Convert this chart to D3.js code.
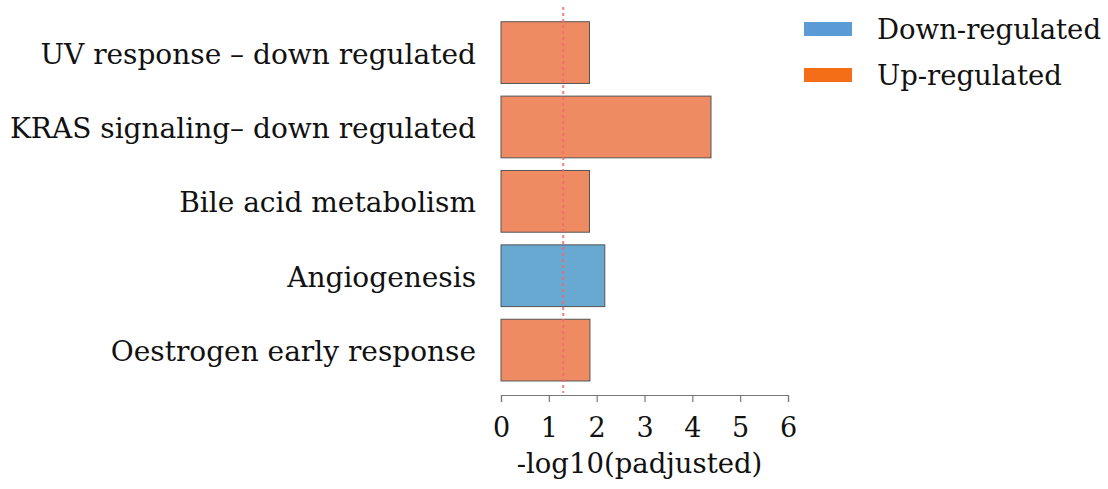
<!DOCTYPE html>
<html><head><meta charset="utf-8">
<script src="https://cdn.jsdelivr.net/npm/d3@7"></script>
<style>
html,body{margin:0;padding:0;background:#fff;}
svg text{font-family:"Palatino Linotype",Palatino,"Book Antiqua","P052","URW Palladio L","DejaVu Serif",serif;fill:#111;}
</style></head>
<body><svg id="c" width="1108" height="489"></svg>
<script>
const categories = ["UV response – down regulated","KRAS signaling– down regulated","Bile acid metabolism","Angiogenesis","Oestrogen early response"];
const values = [1.85, 4.39, 1.85, 2.17, 1.86];
const direction = ["Up","Up","Up","Down","Up"];
const tickValues = [0,1,2,3,4,5,6];
const threshold = 1.301; // -log10(0.05)
const legendLabels = ["Down-regulated","Up-regulated"];
const legendKeys = ["Down","Up"];

const svg = d3.select("#c");
const x = d3.scaleLinear().domain([0,6]).range([501,788]);
const y = d3.scaleBand().domain(categories).range([15.4,387.3]).paddingInner(0.17).paddingOuter(0.085);
const barFill = d3.scaleOrdinal().domain(["Down","Up"]).range(["#67A9D1","#EF8B63"]);
const legFill = d3.scaleOrdinal().domain(["Down","Up"]).range(["#5B9BD5","#F36E17"]);

// bars
svg.append("g").selectAll("rect").data(categories).join("rect")
  .attr("x", x(0))
  .attr("y", d => y(d))
  .attr("width", (d,i) => x(values[i]) - x(0))
  .attr("height", y.bandwidth())
  .attr("fill", (d,i) => barFill(direction[i]))
  .attr("stroke", "#555")
  .attr("stroke-width", 1);

// threshold line
svg.append("line")
  .attr("x1", x(threshold)).attr("x2", x(threshold))
  .attr("y1", 7).attr("y2", 393)
  .attr("stroke", "#F26A6A").attr("stroke-width", 2)
  .attr("stroke-opacity", 0.85)
  .attr("stroke-dasharray", "3,3");

// category labels
svg.append("g").selectAll("text").data(categories).join("text")
  .attr("x", 476)
  .attr("y", d => y(d) + y.bandwidth()/2 + 11)
  .attr("text-anchor", "end")
  .style("font-size", "28px")
  .text(d => d);

// x axis
const axis = d3.axisBottom(x).tickValues(tickValues).tickSize(7).tickPadding(16).tickFormat(d3.format("d"));
const ax = svg.append("g").attr("transform", "translate(0,395)").call(axis);
ax.attr("font-family", null).attr("font-size", null);
ax.select(".domain").attr("stroke", "#777").attr("stroke-width", 1.2);
ax.selectAll(".tick line").attr("stroke", "#777").attr("stroke-width", 1.2);
ax.selectAll(".tick text").style("font-size", "27px").attr("fill", "#111");

svg.append("text")
  .attr("x", (x(0)+x(6))/2 - 5)
  .attr("y", 473)
  .attr("text-anchor", "middle")
  .style("font-size", "27.5px")
  .text("-log10(padjusted)");

// legend
const leg = svg.append("g");
const legY = d3.scalePoint().domain(legendKeys).range([29, 75]);
leg.selectAll("rect").data(legendKeys).join("rect")
  .attr("x", 804).attr("y", d => legY(d) - 7)
  .attr("width", 48).attr("height", 14)
  .attr("fill", d => legFill(d));
leg.selectAll("text").data(legendKeys).join("text")
  .attr("x", 877).attr("y", d => legY(d) + 10)
  .style("font-size", "27.5px")
  .text((d,i) => legendLabels[i]);
</script></body></html>
